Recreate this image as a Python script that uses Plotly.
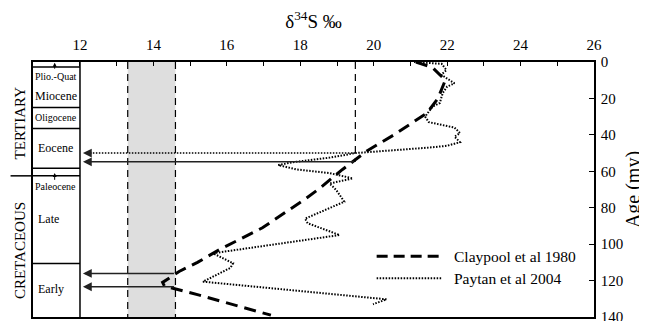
import plotly.graph_objects as go

# Sulfur isotope curves (delta34S permil vs age in my)
claypool_age = [0, 3, 10, 20, 28, 40, 49, 59, 69, 75, 91, 103, 110, 115, 121, 123, 128, 139]
claypool_d34s = [21.15, 21.6, 21.95, 21.75, 21.45, 20.55, 19.8, 19.15, 18.55, 18.15, 16.97, 15.8, 15.2, 14.7, 14.25, 14.3, 15.25, 17.2]

paytan_age = [0, 1, 4.4, 7, 11.7, 13.5, 17, 22.5, 24.5, 30, 33, 36, 39, 41, 44, 46, 47, 48.5, 50,
              52.5, 55, 56.6, 59, 61, 63.9, 66.7, 70.3, 76.7, 86, 88.5, 95, 105, 110.5, 113, 120.6,
              130.3, 133]
paytan_d34s = [21.1, 21.85, 21.98, 21.84, 22.2, 22.0, 21.88, 21.8, 21.6, 21.4, 21.5, 22.2, 22.35,
               22.2, 22.35, 22.0, 21.5, 20.5, 19.5, 18.8, 17.8, 17.4, 17.9, 18.8, 19.43, 18.8, 18.98,
               19.2, 18.13, 18.2, 19.07, 15.62, 16.17, 16.1, 15.35, 20.35, 19.98]

band_lo, band_hi = 13.3, 14.6
cutoff_d34s, cutoff_age = 19.5, 54.8

arrow_ages = [50.0, 54.8, 116.1, 123.4]
arrow_from = [19.5, 19.5, 14.6, 14.6]
arrow_dotted = [True, False, False, False]

# geologic time column
column_left = 10.72
boundaries = [2.7, 25.0, 36.5, 58.3, 62.5, 110.6]
epoch_names = ["Plio.-Quat", "Miocene", "Oligocene", "Eocene", "Paleocene", "Late", "Early"]
epoch_ages = [7.7, 18.6, 30.4, 47.2, 68.4, 86.1, 124.5]
period_names = ["TERTIARY", "CRETACEOUS"]
period_ages = [33.4, 103.5]
pointer_from = [4.5, 65.5]
pointer_to = [0.4, 61.0]

x_ticks = list(range(12, 27))
x_tick_labels = [str(v) if v % 2 == 0 else "" for v in x_ticks]
y_ticks = list(range(0, 141, 20))

FONT = "Liberation Serif, Times New Roman, serif"

fig = go.Figure()
fig.add_trace(go.Scatter(x=claypool_d34s, y=claypool_age, mode="lines",
                         line=dict(color="black", width=3, dash="12px,7px"),
                         name="Claypool et al 1980", showlegend=False))
fig.add_trace(go.Scatter(x=paytan_d34s, y=paytan_age, mode="lines",
                         line=dict(color="black", width=2, dash="1.5px,1.5px"),
                         name="Paytan et al 2004", showlegend=False))

shapes = []
# shaded band and its dashed borders
shapes.append(dict(type="rect", xref="x", yref="y", x0=band_lo, x1=band_hi, y0=0, y1=140,
                   fillcolor="#dedede", line=dict(width=0), layer="below"))
for xv in (band_lo, band_hi):
    shapes.append(dict(type="line", xref="x", yref="y", x0=xv, x1=xv, y0=0, y1=140,
                       line=dict(color="black", width=1.2, dash="7px,5px")))
shapes.append(dict(type="line", xref="x", yref="y", x0=cutoff_d34s, x1=cutoff_d34s, y0=0,
                   y1=cutoff_age, line=dict(color="black", width=1.2, dash="7px,5px")))

# column box
shapes.append(dict(type="line", xref="x", yref="y", x0=12, x1=12, y0=0, y1=140,
                   line=dict(color="black", width=1.5)))
for b in boundaries:
    shapes.append(dict(type="line", xref="x", yref="y", x0=column_left, x1=12, y0=b, y1=b,
                       line=dict(color="black", width=1.5)))
shapes.append(dict(type="line", xref="paper", yref="y", x0=-0.04, x1=0, y0=62.5, y1=62.5,
                   line=dict(color="black", width=1.5)))

annotations = []
# arrows back to the column
for age, x0, dotted in zip(arrow_ages, arrow_from, arrow_dotted):
    if dotted:
        shapes.append(dict(type="line", xref="x", yref="y", x0=x0, x1=12.3, y0=age, y1=age,
                           line=dict(color="black", width=1.5, dash="1.5px,1.5px")))
        tail = 12.35
    else:
        tail = x0
    annotations.append(dict(x=12.08, y=age, ax=tail, ay=age, xref="x", yref="y",
                            axref="x", ayref="y", text="", showarrow=True, arrowhead=2,
                            arrowsize=1.1, arrowwidth=1.6, arrowcolor="#222"))

for a0, a1 in zip(pointer_from, pointer_to):
    annotations.append(dict(x=11.31, y=a1, ax=11.31, ay=a0, xref="x", yref="y",
                            axref="x", ayref="y", text="", showarrow=True, arrowhead=2,
                            arrowsize=0.8, arrowwidth=1, arrowcolor="black"))

for name, age in zip(epoch_names, epoch_ages):
    left = name in ("Late", "Early")
    size = 10 if name in ("Plio.-Quat", "Oligocene", "Paleocene") else 12
    annotations.append(dict(x=10.81 if left else 11.34, y=age, xref="x", yref="y", text=name,
                            showarrow=False, xanchor="left" if left else "center",
                            font=dict(family=FONT, size=size, color="black")))

for name, age in zip(period_names, period_ages):
    annotations.append(dict(x=-0.024, y=age, xref="paper", yref="y", text=name,
                            showarrow=False, textangle=-90, xanchor="center", yanchor="middle",
                            font=dict(family=FONT, size=15, color="black")))

# legend drawn by hand
legend_rows = [106.7, 118.7]
legend_dash = ["11px,6px", "1.5px,1.5px"]
legend_width = [3, 2]
legend_names = ["Claypool et al 1980", "Paytan et al 2004"]
for row, dash, w, name in zip(legend_rows, legend_dash, legend_width, legend_names):
    shapes.append(dict(type="line", xref="x", yref="y", x0=20.08, x1=21.86, y0=row, y1=row,
                       line=dict(color="black", width=w, dash=dash)))
    annotations.append(dict(x=22.13, y=row, xref="x", yref="y", text=name, showarrow=False,
                            xanchor="left", font=dict(family=FONT, size=15.5, color="black")))

# the page body adds an 8px offset, so margins are shifted to compensate
fig.update_layout(
    width=647, height=321,
    margin=dict(l=25, r=61, t=54, b=12),
    paper_bgcolor="white", plot_bgcolor="white",
    font=dict(family=FONT, size=15, color="black"),
    shapes=shapes, annotations=annotations, showlegend=False,
)
fig.update_xaxes(
    range=[column_left, 26], side="top", tickvals=x_ticks, ticktext=x_tick_labels,
    ticks="inside", ticklen=4, tickcolor="black", showgrid=False, zeroline=False,
    showline=True, linecolor="black", linewidth=1.5, mirror=True, automargin=False,
    ticklabelstandoff=4, tickfont=dict(family=FONT, size=15, color="black"),
    title=dict(text="δ<sup>34</sup>S ‰", font=dict(family=FONT, size=19, color="black"),
               standoff=4),
)
fig.update_yaxes(
    range=[140, 0], side="right", tickvals=y_ticks, ticks="inside", ticklen=5,
    tickcolor="black", showgrid=False, zeroline=False, showline=True, linecolor="black",
    linewidth=1.5, mirror=True, automargin=False, ticklabelstandoff=2,
    tickfont=dict(family=FONT, size=15, color="black"),
    title=dict(text="Age (my)", font=dict(family=FONT, size=20, color="black"), standoff=4),
)

fig.write_html("out.html")
